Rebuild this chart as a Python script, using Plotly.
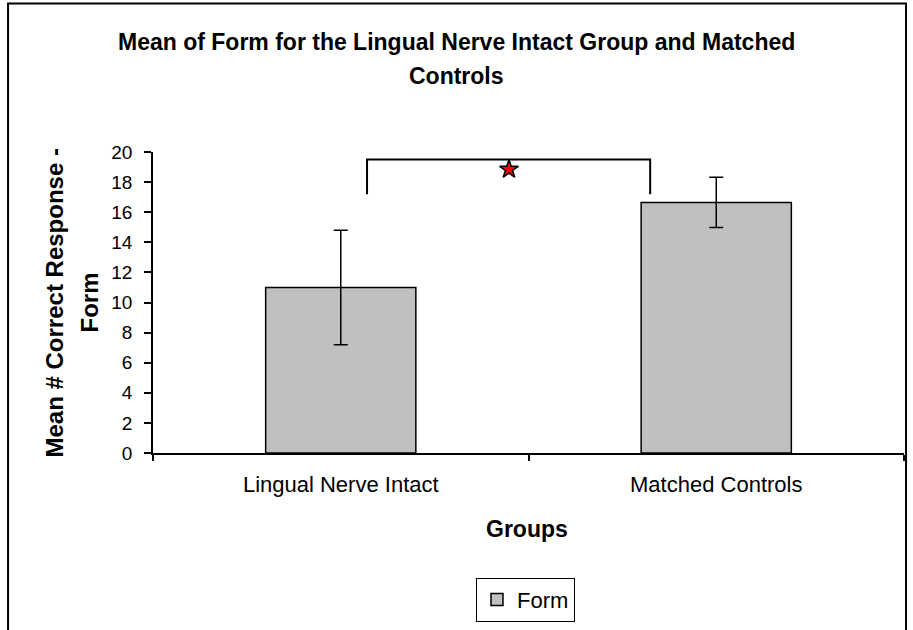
import plotly.graph_objects as go

categories = ["Lingual Nerve Intact", "Matched Controls"]
cat_pos = [0, 1]
means = [11.0, 16.65]
err = [3.8, 1.67]
series_name = "Form"

bracket_x = [0.07, 0.07, 0.824, 0.824]
bracket_y = [17.2, 19.5, 19.5, 17.2]
star_x = [0.448]
star_y = [18.85]

y_ticks = list(range(0, 21, 2))

FONT = "Liberation Sans, Arial, sans-serif"

fig = go.Figure()
fig.add_trace(go.Bar(
    x=cat_pos, y=means, width=0.4, name=series_name,
    marker=dict(color="#C0C0C0", line=dict(color="black", width=1.5)),
    error_y=dict(type="data", array=err, visible=True, color="black", thickness=1.5, width=7),
))
fig.add_trace(go.Scatter(
    x=bracket_x, y=bracket_y, mode="lines", line=dict(color="black", width=2),
    showlegend=False, hoverinfo="skip",
))
fig.add_trace(go.Scatter(
    x=star_x, y=star_y, mode="markers",
    marker=dict(symbol="star", size=14, color="red", line=dict(color="black", width=1.5)),
    showlegend=False, hoverinfo="skip",
))

fig.update_layout(
    width=913, height=630,
    margin=dict(l=153, r=9, t=152, b=176),
    paper_bgcolor="white", plot_bgcolor="white",
    font=dict(family=FONT, color="black"),
    showlegend=True,
    legend=dict(
        x=0.496, y=-0.41, xanchor="center", yanchor="top",
        bordercolor="black", borderwidth=1, font=dict(size=22, family=FONT),
        itemwidth=30,
    ),
    xaxis=dict(
        range=[-0.5, 1.5], tickmode="array", tickvals=cat_pos, ticktext=categories,
        ticks="", showline=True, linecolor="black", linewidth=1.5,
        showgrid=False, zeroline=False, tickfont=dict(size=22),
        minor=dict(tick0=0.5, dtick=1, ticks="outside", ticklen=6, tickcolor="black", tickwidth=1.5, showgrid=False),
        ticklabelstandoff=11,
    ),
    yaxis=dict(
        range=[0, 20], tickmode="array", tickvals=y_ticks,
        ticks="outside", ticklen=7, tickcolor="black", tickwidth=1.5,
        showline=True, linecolor="black", linewidth=1.5,
        showgrid=False, zeroline=False, tickfont=dict(size=19),
        ticklabelstandoff=8,
    ),
    shapes=[dict(type="rect", xref="paper", yref="paper",
                 x0=-0.193, x1=1.0027, y0=-0.7, y1=1.4934,
                 line=dict(color="black", width=2), fillcolor="rgba(0,0,0,0)")],
    annotations=[
        dict(text="<b>Mean of Form for the Lingual Nerve Intact Group and Matched</b>",
             xref="paper", yref="paper", x=0.4035, y=1.3642, xanchor="center", yanchor="middle",
             showarrow=False, font=dict(size=23, family=FONT)),
        dict(text="<b>Controls</b>",
             xref="paper", yref="paper", x=0.4035, y=1.2517, xanchor="center", yanchor="middle",
             showarrow=False, font=dict(size=23, family=FONT)),
        dict(text="<b>Mean # Correct Response -</b>",
             xref="paper", yref="paper", x=-0.1305, y=0.5, xanchor="center", yanchor="middle",
             textangle=-90, showarrow=False, font=dict(size=24, family=FONT)),
        dict(text="<b>Form</b>",
             xref="paper", yref="paper", x=-0.0839, y=0.5, xanchor="center", yanchor="middle",
             textangle=-90, showarrow=False, font=dict(size=24, family=FONT)),
        dict(text="<b>Groups</b>",
             xref="paper", yref="paper", x=0.498, y=-0.2517, xanchor="center", yanchor="middle",
             showarrow=False, font=dict(size=23, family=FONT)),
    ],
)

fig.write_html("out.html", config={"displayModeBar": False},
               post_script="document.body.style.margin='0';")
